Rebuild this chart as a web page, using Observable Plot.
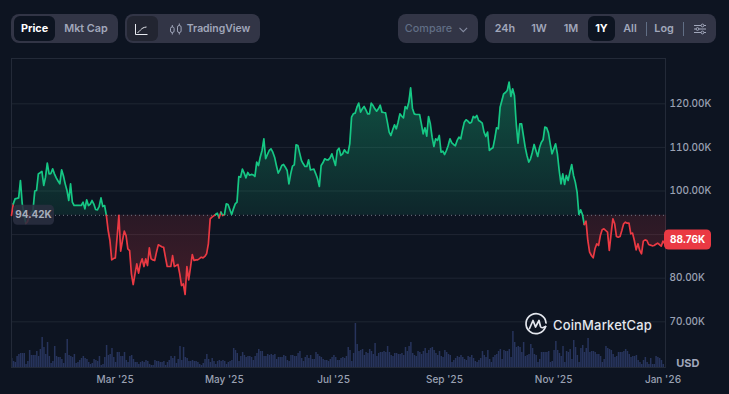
<!DOCTYPE html>
<html>
<head>
<meta charset="utf-8">
<script src="https://cdn.jsdelivr.net/npm/d3@7"></script>
<script src="https://cdn.jsdelivr.net/npm/@observablehq/plot@0.6"></script>
<style>
html,body{margin:0;padding:0;background:#0d1421;width:729px;height:394px;overflow:hidden;font-family:Inter,sans-serif}
#stage{position:relative;width:729px;height:394px}
#stage svg.layer{position:absolute;left:0;top:0}
.box{position:absolute;top:14px;height:29px;background:#323546;border-radius:8px}
.act{position:absolute;top:16px;height:25px;background:#0d1421;border-radius:6px}
.t{position:absolute;top:14px;height:29px;line-height:29px;font-size:10.8px;font-weight:600;color:#a1a7bb;white-space:nowrap;transform:translateX(-50%)}
.t.on{color:#fff;font-weight:700}
.sep{position:absolute;top:22px;height:14px;width:1px;background:#616e85}
#wm{position:absolute;left:553px;top:314px;font-size:13px;line-height:22px;font-weight:500;letter-spacing:.15px;color:#e4e7ee;white-space:nowrap}
svg.ic{position:absolute;overflow:visible}
</style>
</head>
<body>
<div id="stage">
  <div class="box" style="left:11px;width:107px"></div>
  <div class="act" style="left:14px;width:41px"></div>
  <div class="t on" style="left:34.5px">Price</div>
  <div class="t" style="left:86px">Mkt Cap</div>

  <div class="box" style="left:125px;width:135px"></div>
  <div class="act" style="left:127px;width:31px;background:#222531"></div>
  <svg class="ic" style="left:135px;top:24px" width="13" height="11" fill="none" stroke="#e8eaf0" stroke-width="1"><path d="M.5 0V10.5H12.5"/><path d="M2.5 8.5C5 8 5.5 3.5 11.5 3"/></svg>
  <svg class="ic" style="left:170px;top:23px" width="12" height="12" fill="none" stroke="#a1a7bb" stroke-width="1"><rect x="0.5" y="4" width="3.6" height="5.5" rx="1.6"/><path d="M2.3 2V4M2.3 9.5V11.5"/><rect x="7.5" y="2.5" width="3.6" height="7" rx="1.6"/><path d="M9.3 .5V2.5M9.3 9.5V11.5"/></svg>
  <div class="t" style="left:218.5px;font-size:10.4px">TradingView</div>

  <div class="box" style="left:398px;width:80px"></div>
  <div class="t" style="left:428.5px;color:#616e85;font-weight:500;font-size:10.8px">Compare</div>
  <svg class="ic" style="left:459px;top:27px" width="9" height="6" fill="none" stroke="#858ca2" stroke-width="1.1"><path d="M.5 .8L4.3 4.6L8.1 .8"/></svg>

  <div class="box" style="left:485px;width:231px"></div>
  <div class="act" style="left:588px;width:27px"></div>
  <div class="t" style="left:505px">24h</div>
  <div class="t" style="left:539px">1W</div>
  <div class="t" style="left:571px">1M</div>
  <div class="t on" style="left:601.5px">1Y</div>
  <div class="t" style="left:630px">All</div>
  <div class="sep" style="left:646px"></div>
  <div class="t" style="left:664px">Log</div>
  <div class="sep" style="left:683px"></div>
  <svg class="ic" style="left:694px;top:23px" width="12" height="12" fill="none" stroke="#a1a7bb" stroke-width="1"><path d="M0 2.5H12M0 6H12M0 9.5H12"/><circle cx="8.5" cy="2.5" r="1.4" fill="#323546"/><circle cx="3.5" cy="6" r="1.4" fill="#323546"/><circle cx="8.5" cy="9.5" r="1.4" fill="#323546"/></svg>

  <div id="plots"></div>

  <svg class="ic" style="left:524px;top:312px" width="24" height="24" fill="none" stroke="#e4e7ee" stroke-width="1.7" stroke-linecap="round" stroke-linejoin="round"><path d="M21.6 14.5A10 10 0 1 1 22 11"/><path d="M5.5 16.5L9 8.5L11.5 15L15 8.5L16.5 14.5Q17.5 17 21.6 14.5"/></svg>
  <div id="wm">CoinMarketCap</div>
</div>
<script>
const startDate = new Date(Date.UTC(2025, 0, 2));
const baseline = 94.42;
const lastPrice = 88.76;
const gridTicks = [70, 80, 90, 100, 110, 120];
const yTicks = [70, 80, 100, 110, 120]; // the 90.00K label sits under the current-price tag in the reference
const xTicks = ["2025-03-01", "2025-05-01", "2025-07-01", "2025-09-01", "2025-11-01", "2026-01-01"];

// Price in thousands of USD, one value per day from startDate
const pricesJanMay = [94.4,97.05,98.2,98.3,98.43,102.41,97.05,94.6,92.6,93,94.4,95,95.5,100,100.11,103.93,104.2,104.5,101.26,103.17,106.38,103.93,104,105.08,103.93,103,102.3,101.64,104.85,103.5,101.64,100.11,97.82,101.64,97.44,96.67,96.7,96.7,96.7,96.67,97.44,95.9,97.97,96.67,97,97.82,97,95.75,95.68,96.5,98.43,96.44,96.67,94.4,90.94,88.65,84.2,84.5,84.67,89.4,94.4,86.2,88.65,90.8,89.8,86.73,86.35,81,78.55,81,83.3,81.15,83.3,84.44,82.68,84.44,82.91,86.96,84.44,84.2,84.06,85.97,87.65,87.42,87.2,87.1,84.82,82.68,82.68,82.68,85.2,82.68,82.9,83.14,81,78.32,78.71,76.26,82.68,79.62,82.5,85.43,84.06,84.2,84.2,84.5,84.82,84.67,85,85.59,87.9,93.6,94,94.3,94.6,94.9,93.85,95.15,94.4,94.6,97.05,96.9,95.75,94.6,95.9,97.05,97.44,103.33];
const pricesMayAug = [103.18,105,104.09,103.02,104.25,103.63,103.8,103.7,103.33,106.62,105.85,107.8,109.29,111.97,107.4,108.37,109.29,109.67,108.9,107.76,105.85,104.09,104.86,105.85,106.08,105.47,104.7,101.65,103.94,105.7,106,110.6,110.44,108.68,107,106.23,105.62,105.62,107.15,104.86,104.93,105,103.94,102.79,101.04,105.85,106.46,107.38,107.15,107.15,107.6,108.53,107.15,105.85,109.29,109.83,108.15,108.53,109.45,108.9,108.68,110.82,116.94,117.7,117.86,119.23,120.15,118.08,118.85,119.38,118.6,117.7,117.7,120.15,119.6,118.85,118.3,118.85,119.69,118.08,118,117.93,115.79,113.5,112.73,114.03,115.18,114.26,115.79,117.7,117.17,116.78,119.38,118.85,120.4,123.66,119,117.7,117.55,117.55,117.55,115.41,113.11,114.49,112.58,117.09,115.41];
const pricesAugOct = [112.35,110.21,111.97,111.59,112.73,108.91,109.14,108.37,109.29,110.44,111.97,111.05,110.67,110.36,111.59,112.35,111.97,114.03,115.79,116.33,116.02,115.56,115.79,117.09,116.78,117.32,116.17,115.94,115.56,113.5,112.5,113.5,109.29,109.67,109.9,111.97,114.49,114.26,119.23,120.76,122.29,122.6,123.05,124.96,121.68,123.44,121.9,115.41,110.97,115.41,115.41,112.73,110.06,108.14,106.62,107.38,108.91,110.67,109.29,107.92,109.9,111.13,111.74,114.64,114.49,113.34,110.82,108.53,109.67,110.82,108.53,104.7,101.65,103.94,101.5,103.56,102.41,104.32,106.08,103.56,102.03,99.73,94.61,95.68,94.61,92.32,93.08,88.65,85.97,85.21,84.67,86.74,87.89,87.5,89.8,91.1,91.33,90.94,90.56,86.36,90.18,93.62,92.47,89.57,89.41,89.57,90.94,92.47,92.85,92.62,92.62,90.18,90.33,88.65,86.51,87.89,86.36,85.59,88.5,88.8,88.65,87.73,87.58,87.43,87.5,87.8,88.04,87.73,87.35,88.5,87.89,88.76];

// Daily volume in the chart's relative units
const volumeH1 = [9,6,5,11,13,14,14,14,3,6,17,12,12,12,16,11,18,30,20,13,25,11,4,6,21,11,10,10,8,4,14,28,12,11,10,13,4,5,7,9,11,9,8,5,3,4,8,7,6,11,2,3,10,22,12,13,19,10,5,15,15,11,11,15,7,5,11,12,8,5,5,3,5,6,5,7,6,3,2,2,7,6,6,5,5,6,2,5,7,11,9,11,4,8,21,7,20,10,9,6,6,7,6,6,5,3,2,4,8,13,8,5,9,6,3,6,7,6,7,6,3,5,6,7,19,17,14,6,11,15,12,10,11,11,10,7,11,14,18,16,16,11,11,13,12,13,12,13,8,10,10,10,12,11,7,6,12,12,11,11,14,16,9,6,10,12,9,12,8,8,15,13,11,10,8,7,7,6,8,10,12,10,7,7,9,10,9,11,20,17,6,14,44,23,16,17,18,12];
const volumeH2 = [15,14,18,16,13,24,11,14,15,15,16,15,21,15,12,11,14,14,13,13,14,12,20,16,21,25,14,12,11,16,15,13,16,19,14,17,19,20,17,14,12,16,11,10,17,15,13,12,5,7,9,11,10,12,10,8,7,11,10,12,9,6,5,7,9,16,12,10,17,8,5,10,12,13,16,18,8,17,16,16,18,10,36,25,20,21,20,15,25,11,12,13,23,19,13,12,5,8,15,15,15,15,16,5,6,17,26,17,14,11,21,5,16,15,18,8,27,20,12,5,19,22,15,19,29,15,16,16,15,13,13,11,5,8,21,19,18,17,13,10,11,15,15,15,16,18,16,13,10,11,11,12,7,5,3,7,10,5,3,9,3,3,11,10,9,7,3];

const GREEN = "#16c784", RED = "#ea3943";
const prices = [...pricesJanMay, ...pricesMayAug, ...pricesAugOct];
const volumes = [...volumeH1, ...volumeH2];
const priceData = prices.map((v, i) => ({date: d3.utcDay.offset(startDate, i), v}));
const volumeData = volumes.map((v, i) => ({date: d3.utcDay.offset(startDate, i), next: d3.utcDay.offset(startDate, i + 1), v}));

const W = 729, H = 394;
const margins = {marginLeft: 11, marginRight: 64, marginTop: 58, marginBottom: 27};
const xDomain = [startDate, new Date(+startDate + 365.4 * 864e5)];
const fmtMonth = d => d3.utcFormat("%b")(d) + " '" + d3.utcFormat("%y")(d);

const defs = () => {
  const g = d3.create("svg:defs");
  const grad = (id, stops) => {
    const l = g.append("linearGradient").attr("id", id).attr("x1", 0).attr("x2", 0).attr("y1", 0).attr("y2", 1);
    stops.forEach(([o, c, a]) => l.append("stop").attr("offset", o).attr("stop-color", c).attr("stop-opacity", a));
  };
  grad("gUp", [[0, GREEN, 0.34], [1, GREEN, 0.10]]);
  grad("gDown", [[0, RED, 0.13], [1, RED, 0.24]]);
  return g.node();
};

const tag = (value, x0, width, fill, color, weight, opacity) => (index, {y}) => {
  const g = d3.create("svg:g");
  const cy = y(value);
  g.append("rect").attr("x", x0).attr("y", cy - 10).attr("width", width).attr("height", 20).attr("rx", 4.5).attr("fill", fill).attr("fill-opacity", opacity);
  g.append("text").attr("x", x0 + width / 2).attr("y", cy).attr("dy", "0.36em").attr("text-anchor", "middle")
    .attr("fill", color).attr("font-size", 10).attr("font-weight", weight).attr("font-family", "Inter,sans-serif")
    .text(d3.format(".2f")(value) + "K");
  return g.node();
};

const volumePlot = Plot.plot({
  width: W, height: H, ...margins, marginTop: 323,
  style: {background: "transparent"},
  x: {type: "utc", domain: xDomain, axis: null},
  y: {domain: [0, 44], axis: null},
  marks: [
    Plot.rectY(volumeData, {x1: "date", x2: "next", y: "v", fill: "#27345c", insetRight: 0.3})
  ]
});
volumePlot.classList.add("layer");

const pricePlot = Plot.plot({
  width: W, height: H, ...margins,
  style: {background: "transparent", fontFamily: "Inter,sans-serif", fontSize: "10px", fontWeight: 500, overflow: "visible"},
  x: {type: "utc", domain: xDomain},
  y: {domain: [59.52, 130.39]},
  marks: [
    defs,
    Plot.ruleY(gridTicks, {stroke: "#1f2633", strokeWidth: 1}),
    Plot.frame({stroke: "#232a38", strokeWidth: 1}),
    Plot.areaY(priceData, {x: "date", y1: () => baseline, y2: d => Math.max(d.v, baseline), fill: "url(#gUp)"}),
    Plot.areaY(priceData, {x: "date", y1: () => baseline, y2: d => Math.min(d.v, baseline), fill: "url(#gDown)"}),
    Plot.ruleY([baseline], {stroke: "#6f7584", strokeDasharray: "1,3", strokeWidth: 1}),
    Plot.line(priceData, {x: "date", y: "v", z: null, stroke: d => d.v >= baseline ? GREEN : RED, strokeWidth: 1.7}),
    Plot.axisY({anchor: "right", ticks: yTicks, tickSize: 0, tickPadding: 4, label: null, color: "#9aa1b3", fontSize: 10, tickFormat: d => d3.format(".2f")(d) + "K"}),
    Plot.axisX({ticks: xTicks.map(d => new Date(d)), tickSize: 0, tickPadding: 8, label: null, color: "#9aa1b3", fontSize: 10, tickFormat: fmtMonth}),
    tag(baseline, 13, 41, "#2a2f40", "#a6adbb", 700, 0.88),
    tag(lastPrice, 664, 47, RED, "#ffffff", 700, 1),
    Plot.text(["USD"], {frameAnchor: "bottom-right", dx: 34, dy: -0.5, fill: "#a1a7bb", fontWeight: 700, fontSize: 11})
  ]
});
pricePlot.classList.add("layer");

document.getElementById("plots").append(volumePlot, pricePlot);
</script>
</body>
</html>
